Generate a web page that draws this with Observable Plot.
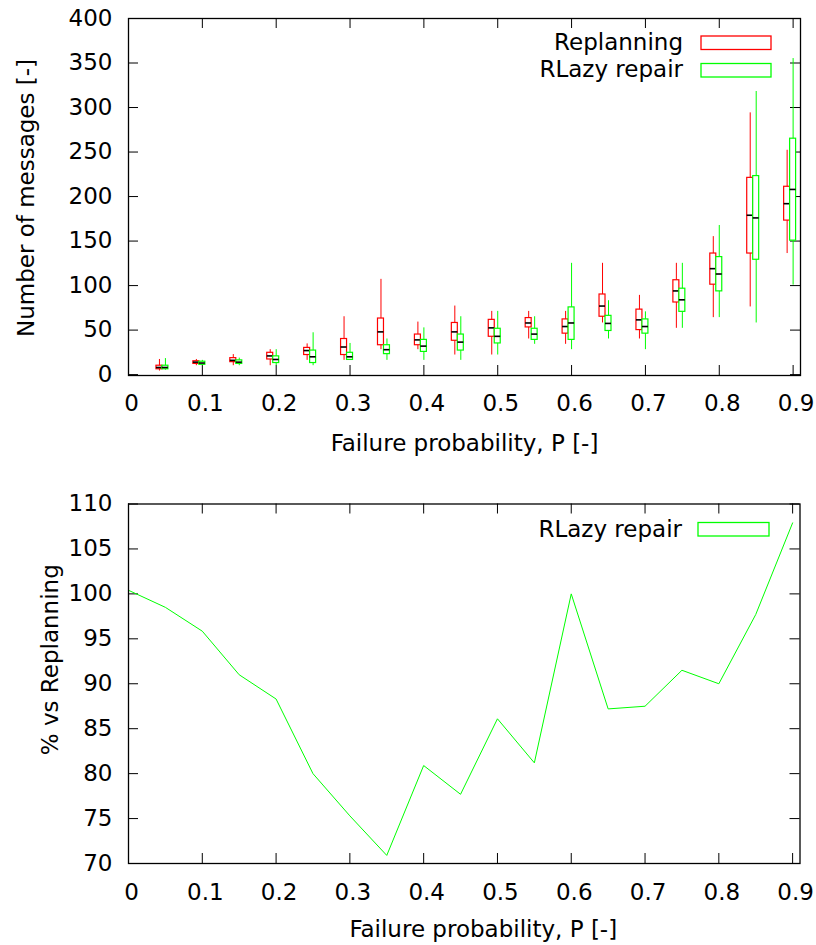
<!DOCTYPE html>
<html><head><meta charset="utf-8">
<script src="https://cdn.jsdelivr.net/npm/d3@7"></script>
<script src="https://cdn.jsdelivr.net/npm/@observablehq/plot@0.6"></script>
<style>body{margin:0;background:#fff} svg{display:block}</style>
</head><body><div id="c"></div>
<script>
// Failure probabilities of the box plots
const P = [0.05,0.1,0.15,0.2,0.25,0.3,0.35,0.4,0.45,0.5,0.55,0.6,0.65,0.7,0.75,0.8,0.85,0.9];
// [min, q1, median, q3, max]
const replanning = [
  [4,6,8,10,17],[10,12,14,15,17],[10,14,16,18.5,22.5],[10,17,21,24.5,28],[16,22,27,30,34.5],
  [16,22,31,40,65],[28,33,48,63,107],[28,33,39,45,59],[22,38,48,58,77],[22,42.5,52.5,61.5,71],
  [40,53,58,63.5,71],[34,46,54,62,71],[58,65,77,90,125],[40,50,61.5,73,89],[52,81,94,106,125],
  [64,101,119,136,155],[76,136,179,221,294],[136,173,192,211,252]
];
const rlazyRepair = [
  [5,6,8,10,18],[10,11,13,14.5,16],[10,12,14,16,18.5],[10,13,17,20.5,28],[10,13,20,27,47],
  [16,16.5,20,24.5,35],[16,23,28,33,40],[16,25.5,32,39,52.5],[16,27,36.5,45,65],[22,35,43,51.5,71],
  [34,39,45.5,51.5,65],[28,39,58,75.5,125],[40,49,57.5,66,83],[28,46,54,62,70.5],[52,70.5,84,96.5,125],
  [64,93.5,113,132,167.5],[58,129,176,223,318],[100.5,150.5,208,265,355]
];
// Bottom panel: % vs Replanning
const ratioP = [0,0.05,0.1,0.15,0.2,0.25,0.3,0.35,0.4,0.45,0.5,0.55,0.6,0.65,0.7,0.75,0.8,0.85,0.9];
const ratioRLazy = [100.4,98.5,95.85,91.0,88.3,80.0,75.3,70.9,80.9,77.7,86.1,81.2,100.0,87.2,87.5,91.5,90.0,97.7,107.9];
const xTicks = [0,0.1,0.2,0.3,0.4,0.5,0.6,0.7,0.8,0.9];
const yTicksTop = [0,50,100,150,200,250,300,350,400];
const yTicksBottom = [70,75,80,85,90,95,100,105,110];
const seriesNames = ["Replanning","RLazy repair"];
const colors = ["#ff0000","#00ff00"];
const xLabel = "Failure probability, P [-]";
const yLabelTop = "Number of messages [-]";
const yLabelBottom = "% vs Replanning";

const FONT = "DejaVu Sans";
const FS = 23;
const W = 816;
const boxW = 0.0081;          // box width in P units
const xfmt = d => d === 0 ? "0" : d.toFixed(1);

function rows(arr, off) {
  return P.map((p, i) => ({x: p + off, min: arr[i][0], q1: arr[i][1], med: arr[i][2], q3: arr[i][3], max: arr[i][4]}));
}
const redRows = rows(replanning, -boxW);
const greenRows = rows(rlazyRepair, 0);

function frameTicks(xt, yt, ph, pw) {
  const t = 10;
  return [
    Plot.tickX(xt, {x: d => d, insetTop: ph - t, stroke: "#000", strokeWidth: 1}),
    Plot.tickX(xt, {x: d => d, insetBottom: ph - t, stroke: "#000", strokeWidth: 1}),
    Plot.tickY(yt, {y: d => d, insetRight: pw - t, stroke: "#000", strokeWidth: 1}),
    Plot.tickY(yt, {y: d => d, insetLeft: pw - t, stroke: "#000", strokeWidth: 1})
  ];
}

function boxMarks(data, color) {
  const hw = boxW / 2;
  return [
    Plot.ruleX(data, {x: "x", y1: "min", y2: "max", stroke: color, strokeWidth: 1}),
    Plot.rect(data, {x1: d => d.x - hw, x2: d => d.x + hw, y1: "q1", y2: "q3", fill: "white", stroke: color, strokeWidth: 1.2}),
    Plot.ruleY(data, {y: "med", x1: d => d.x - hw, x2: d => d.x + hw, stroke: "black", strokeWidth: 1.6})
  ];
}

// ---- Top panel ----
const topH = 470, topMT = 18, topMB = 95, ML = 128, MR = 16;
const topPH = topH - topMT - topMB, PW = W - ML - MR;
const topChart = Plot.plot({
  width: W, height: topH,
  marginTop: topMT, marginBottom: topMB, marginLeft: ML, marginRight: MR,
  style: {fontFamily: FONT, fontSize: FS + "px", color: "#000", background: "#fff"},
  x: {domain: [0, 0.91]},
  y: {domain: [-1, 400]},
  marks: [
    ...frameTicks(xTicks, yTicksTop, topPH, PW),
    ...boxMarks(redRows, colors[0]),
    ...boxMarks(greenRows, colors[1]),
    Plot.frame({stroke: "#000", strokeWidth: 1.3}),
    Plot.axisX(xTicks, {tickSize: 0, tickPadding: 19, tickFormat: xfmt, label: null, dx: 3}),
    Plot.axisY(yTicksTop, {tickSize: 0, tickPadding: 16, label: null}),
    Plot.text([xLabel], {text: d => d, frameAnchor: "bottom", dy: 75, fontSize: FS}),
    Plot.text([yLabelTop], {text: d => d, frameAnchor: "left", textAnchor: "middle", rotate: -90, dx: -102, dy: 1, fontSize: FS})
  ]
});

// ---- Bottom panel ----
const botH = 475, botMT = 33.5, botMB = 82, MR2 = 16.5;
const botPH = botH - botMT - botMB, PW2 = W - ML - MR2;
const bottomChart = Plot.plot({
  width: W, height: botH,
  marginTop: botMT, marginBottom: botMB, marginLeft: ML, marginRight: MR2,
  style: {fontFamily: FONT, fontSize: FS + "px", color: "#000", background: "#fff"},
  x: {domain: [0, 0.91]},
  y: {domain: [70, 110]},
  marks: [
    ...frameTicks(xTicks, yTicksBottom, botPH, PW2),
    Plot.line(ratioP.map((p, i) => ({p, v: ratioRLazy[i]})), {x: "p", y: "v", stroke: colors[1], strokeWidth: 1}),
    Plot.frame({stroke: "#000", strokeWidth: 1.3}),
    Plot.axisX(xTicks, {tickSize: 0, tickPadding: 20, tickFormat: xfmt, label: null, dx: 3}),
    Plot.axisY(yTicksBottom, {tickSize: 0, tickPadding: 16, label: null}),
    Plot.text([xLabel], {text: d => d, frameAnchor: "bottom", dx: 19, dy: 73, fontSize: FS}),
    Plot.text([yLabelBottom], {text: d => d, frameAnchor: "left", textAnchor: "middle", rotate: -90, dx: -78, dy: -24, fontSize: FS})
  ]
});

function legendItem(svg, label, color, textRight, baseline, rx, ry, rw, rh) {
  const s = d3.select(svg);
  s.append("text").attr("x", textRight).attr("y", baseline).attr("text-anchor", "end")
    .attr("font-family", FONT).attr("font-size", FS).attr("fill", "#000").text(label);
  s.append("rect").attr("x", rx).attr("y", ry).attr("width", rw).attr("height", rh)
    .attr("fill", "white").attr("stroke", color).attr("stroke-width", 1.3);
}
legendItem(topChart, seriesNames[0], colors[0], 683, 50, 701, 36, 70, 13.5);
legendItem(topChart, seriesNames[1], colors[1], 683, 77, 701, 63.5, 70, 13.5);
legendItem(bottomChart, seriesNames[1], colors[1], 682, 537 - 470, 698, 522.5 - 470, 71, 13.5);

document.getElementById("c").append(topChart, bottomChart);
</script>
</body></html>
